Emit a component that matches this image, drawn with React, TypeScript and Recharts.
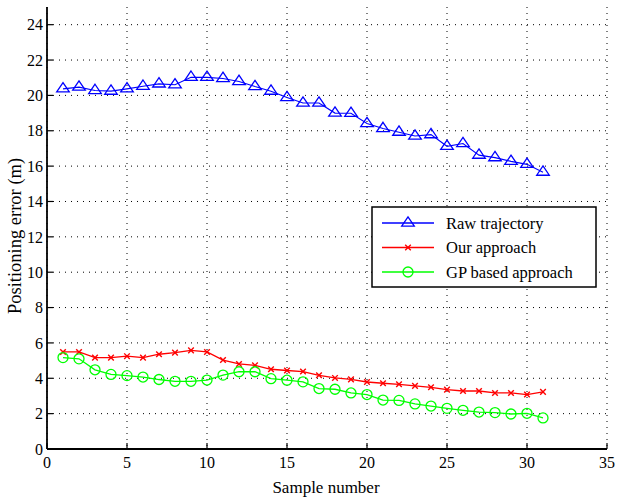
import React from 'react';
import { LineChart, Line, XAxis, YAxis, CartesianGrid, Legend } from 'recharts';

const samples = [1, 2, 3, 4, 5, 6, 7, 8, 9, 10, 11, 12, 13, 14, 15, 16, 17, 18, 19, 20, 21, 22, 23, 24, 25, 26, 27, 28, 29, 30, 31];
const rawTrajectory = [20.37, 20.47, 20.28, 20.24, 20.37, 20.52, 20.65, 20.6, 21.03, 21.02, 20.96, 20.79, 20.5, 20.24, 19.88, 19.57, 19.57, 19.0, 18.99, 18.41, 18.13, 17.92, 17.7, 17.78, 17.12, 17.28, 16.62, 16.48, 16.27, 16.1, 15.66];
const ourApproach = [5.49, 5.49, 5.17, 5.17, 5.25, 5.17, 5.36, 5.45, 5.58, 5.49, 5.03, 4.81, 4.73, 4.51, 4.44, 4.38, 4.17, 4.02, 3.94, 3.79, 3.72, 3.66, 3.57, 3.49, 3.36, 3.28, 3.28, 3.17, 3.17, 3.08, 3.23];
const gpApproach = [5.17, 5.1, 4.48, 4.22, 4.15, 4.07, 3.93, 3.83, 3.83, 3.9, 4.18, 4.37, 4.37, 3.98, 3.89, 3.8, 3.42, 3.38, 3.17, 3.08, 2.77, 2.75, 2.55, 2.43, 2.3, 2.19, 2.09, 2.06, 1.98, 2.02, 1.76];
const xTicks = [0, 5, 10, 15, 20, 25, 30, 35];
const yTicks = [0, 2, 4, 6, 8, 10, 12, 14, 16, 18, 20, 22, 24];
const seriesNames = ['Raw trajectory', 'Our approach', 'GP based approach'];

const data = samples.map((s, i) => ({ sample: s, raw: rawTrajectory[i], ours: ourApproach[i], gp: gpApproach[i] }));

const FONT = '"Liberation Serif", "Times New Roman", Times, serif';
const TS: React.CSSProperties = { fontFamily: FONT, fontSize: 16 };
const BLUE = '#0000ff';
const RED = '#ff0000';
const GREEN = '#00ff00';
const TL = 6;

const triPath = (cx: number, cy: number) =>
  `M${cx},${cy - 6.2} L${cx + 6.3},${cy + 3.1} L${cx - 6.3},${cy + 3.1} Z`;
const xPath = (cx: number, cy: number) => {
  const r = 2.8;
  return `M${cx - r},${cy - r} L${cx + r},${cy + r} M${cx - r},${cy + r} L${cx + r},${cy - r}`;
};

const TriDot = (p: any) => {
  if (p.cx == null || p.cy == null) return <g key={p.key} />;
  return <path key={p.key} d={triPath(p.cx, p.cy)} fill="none" stroke={BLUE} strokeWidth={1.3} />;
};
const XDot = (p: any) => {
  if (p.cx == null || p.cy == null) return <g key={p.key} />;
  return <path key={p.key} d={xPath(p.cx, p.cy)} fill="none" stroke={RED} strokeWidth={1.4} />;
};
const CircleDot = (p: any) => {
  if (p.cx == null || p.cy == null) return <g key={p.key} />;
  return <circle key={p.key} cx={p.cx} cy={p.cy} r={5} fill="none" stroke={GREEN} strokeWidth={1.3} />;
};

const BottomTick = (p: any) => {
  const { x, y, payload } = p;
  const axisY = y - 8;
  return (
    <g>
      <line x1={x} y1={axisY} x2={x} y2={axisY - TL} stroke="#000" strokeWidth={1.2} />
      <text x={x} y={y} dy="0.71em" textAnchor="middle" style={TS} fill="#000">
        {payload.value}
      </text>
    </g>
  );
};
const LeftTick = (p: any) => {
  const { x, y, payload } = p;
  const axisX = x + 4;
  return (
    <g>
      <line x1={axisX} y1={y} x2={axisX + TL} y2={y} stroke="#000" strokeWidth={1.2} />
      <text x={x} y={y} dy="0.355em" textAnchor="end" style={TS} fill="#000">
        {payload.value}
      </text>
    </g>
  );
};
const TopTick = (p: any) => {
  const { x, y } = p;
  return <line x1={x} y1={y} x2={x} y2={y + TL} stroke="#000" strokeWidth={1.2} />;
};
const RightTick = (p: any) => {
  const { x, y } = p;
  return <line x1={x} y1={y} x2={x - TL} y2={y} stroke="#000" strokeWidth={1.2} />;
};

const YLabel = () => (
  <text x={21} y={236} transform="rotate(-90 21 236)" textAnchor="middle" style={{ fontFamily: FONT, fontSize: 18.5 }} fill="#000">
    Positioning error (m)
  </text>
);
const XLabel = () => (
  <text x={326} y={493} textAnchor="middle" style={{ fontFamily: FONT, fontSize: 17 }} fill="#000">
    Sample number
  </text>
);

const LegendBox = () => {
  const rows = [
    { name: seriesNames[0], color: BLUE, kind: 'tri' },
    { name: seriesNames[1], color: RED, kind: 'x' },
    { name: seriesNames[2], color: GREEN, kind: 'circle' },
  ];
  return (
    <svg width={226} height={82} style={{ display: 'block' }}>
      <rect x={1} y={1} width={224} height={80} fill="#fff" stroke="#000" strokeWidth={1.5} />
      {rows.map((r, i) => {
        const cy = 17 + i * 24.5;
        return (
          <g key={r.name}>
            <line x1={11} y1={cy} x2={63} y2={cy} stroke={r.color} strokeWidth={1.3} />
            {r.kind === 'tri' && <path d={triPath(37, cy)} fill="none" stroke={r.color} strokeWidth={1.3} />}
            {r.kind === 'x' && <path d={xPath(37, cy)} fill="none" stroke={r.color} strokeWidth={1.4} />}
            {r.kind === 'circle' && <circle cx={37} cy={cy} r={5} fill="none" stroke={r.color} strokeWidth={1.3} />}
            <text x={75} y={cy} dy="0.355em" style={{ fontFamily: FONT, fontSize: 16.5 }} fill="#000">
              {r.name}
            </text>
          </g>
        );
      })}
    </svg>
  );
};

export default function App() {
  return (
    <div style={{ position: 'absolute', left: 0, top: 0, width: 617, height: 499, background: '#fff', fontFamily: FONT }}>
      <LineChart width={617} height={499} data={data} margin={{ top: 7, right: 10, left: 0, bottom: 0 }}>
        <CartesianGrid stroke="#000" strokeDasharray="1 5" strokeWidth={1} horizontalValues={yTicks} verticalValues={xTicks} />
        <XAxis
          dataKey="sample"
          type="number"
          domain={[0, 35]}
          ticks={xTicks}
          height={50}
          tickSize={0}
          tickMargin={8}
          tickLine={false}
          interval={0}
          axisLine={{ stroke: '#000', strokeWidth: 1.8 }}
          tick={<BottomTick />}
          label={<XLabel />}
        />
        <XAxis
          xAxisId="top"
          orientation="top"
          dataKey="sample"
          type="number"
          domain={[0, 35]}
          ticks={xTicks}
          height={0}
          tickSize={0}
          tickMargin={0}
          tickLine={false}
          interval={0}
          axisLine={{ stroke: '#000', strokeWidth: 1.5 }}
          tick={<TopTick />}
        />
        <YAxis
          type="number"
          domain={[0, 25]}
          ticks={yTicks}
          width={47}
          tickSize={0}
          tickMargin={4}
          tickLine={false}
          interval={0}
          axisLine={{ stroke: '#000', strokeWidth: 1.8 }}
          tick={<LeftTick />}
          label={<YLabel />}
        />
        <YAxis
          yAxisId="right"
          orientation="right"
          type="number"
          domain={[0, 25]}
          ticks={yTicks}
          width={0}
          tickSize={0}
          tickMargin={0}
          tickLine={false}
          interval={0}
          axisLine={{ stroke: '#000', strokeWidth: 1.5 }}
          tick={<RightTick />}
        />
        <Legend
          layout="horizontal"
          verticalAlign="middle"
          align="center"
          wrapperStyle={{ left: 371, top: 206, width: 226, height: 82 }}
          content={() => <LegendBox />}
        />
        <Line dataKey="raw" name={seriesNames[0]} stroke={BLUE} strokeWidth={1.1} dot={TriDot} isAnimationActive={false} />
        <Line dataKey="ours" name={seriesNames[1]} stroke={RED} strokeWidth={1.3} dot={XDot} isAnimationActive={false} />
        <Line dataKey="gp" name={seriesNames[2]} stroke={GREEN} strokeWidth={1.3} dot={CircleDot} isAnimationActive={false} />
      </LineChart>
    </div>
  );
}
